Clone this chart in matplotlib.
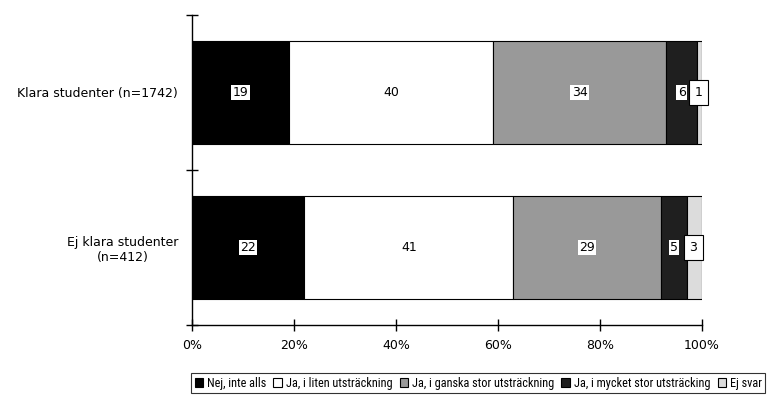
import matplotlib.pyplot as plt
import numpy as np
from matplotlib import font_manager

plt.rcParams['font.family'] = ['DejaVu Sans']

# a narrow face for the legend, if one is installed
narrow = None
for f in font_manager.fontManager.ttflist:
    fn = f.fname.lower()
    if ('narrow' in fn or 'condensed' in fn) and 'bold' not in fn and 'oblique' not in fn and 'italic' not in fn:
        narrow = f.fname
        if 'liberationsansnarrow' in fn.replace('-', ''):
            break

groups = ['Ej klara studenter\n(n=412)', 'Klara studenter (n=1742)']
series = ['Nej, inte alls', 'Ja, i liten utsträckning', 'Ja, i ganska stor utsträckning',
          'Ja, i mycket stor utsträcking', 'Ej svar']
values = [
    [22, 19],
    [41, 40],
    [29, 34],
    [5, 6],
    [3, 1],
]
colors = ['#000000', '#ffffff', '#999999', '#1f1f1f', '#dcdcdc']

fig = plt.figure(figsize=(7.67, 3.97), dpi=100)
ax = fig.add_axes([192 / 767, 1 - 325 / 397, 510 / 767, 310 / 397])

y = np.arange(len(groups))
left = np.zeros(len(groups))
for i, (name, vals) in enumerate(zip(series, values)):
    vals = np.array(vals, dtype=float)
    ax.barh(y, vals, left=left, height=0.67, color=colors[i], edgecolor='black',
            linewidth=0.8, label=name)
    for j, v in enumerate(vals):
        if i < 4:
            ax.text(left[j] + v / 2, y[j], f'{v:g}', ha='center', va='center', fontsize=9,
                    bbox=dict(boxstyle='square,pad=0.1', fc='white', ec='none'))
        else:
            # thin last segment: label in a framed box over the bar end
            ax.text(left[j] + v / 2 - 0.2, y[j], f'{v:g}', ha='center', va='center', fontsize=9,
                    bbox=dict(boxstyle='square,pad=0.45', fc='white', ec='black', lw=0.8))
    left += vals

ax.set_xlim(0, 100)
ax.set_ylim(-0.5, 1.5)
ax.set_xticks(np.arange(0, 101, 20))
ax.set_xticklabels([f'{t}%' for t in range(0, 101, 20)], fontsize=9)
ax.set_yticks(y)
ax.set_yticklabels(groups, fontsize=9, ha='right', multialignment='center')
ax.tick_params(axis='y', length=0, pad=10)
ax.set_yticks([-0.5, 0.5, 1.5], minor=True)
ax.tick_params(axis='y', which='minor', direction='inout', length=8, width=1)
ax.tick_params(axis='x', direction='inout', length=8, width=1, pad=6)
for s in ['top', 'right']:
    ax.spines[s].set_visible(False)
for s in ['left', 'bottom']:
    ax.spines[s].set_linewidth(1)

if narrow:
    lprop = font_manager.FontProperties(fname=narrow, size=8.8)
else:
    lprop = font_manager.FontProperties(family='DejaVu Sans', size=6.4)

handles, labels = ax.get_legend_handles_labels()
leg = fig.legend(handles, labels, loc='upper left', bbox_to_anchor=(191 / 767, 1 - 373 / 397),
                 ncol=5, prop=lprop, frameon=True, fancybox=False, edgecolor='black',
                 handlelength=0.7, handleheight=0.7, handletextpad=0.3, columnspacing=0.6,
                 borderpad=0.3, borderaxespad=0)
leg.get_frame().set_linewidth(0.8)

fig.savefig('out.png', dpi=100)
